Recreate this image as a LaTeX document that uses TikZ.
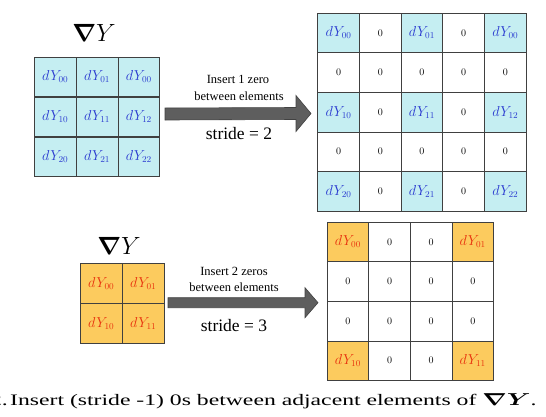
\documentclass[tikz,border=0pt]{standalone}
\usepackage{amsmath,bm}
\usepackage{fontspec}
\newfontfamily\tnr{Liberation Serif}
\usetikzlibrary{calc}
\definecolor{cy}{HTML}{C5EEF2}
\definecolor{og}{HTML}{FCCB5E}
\definecolor{bl}{HTML}{2A3AD0}
\definecolor{rd}{HTML}{E8320E}
\definecolor{gl}{HTML}{404040}
\definecolor{ar}{HTML}{5E5E5E}
\tikzset{
  cell/.style={draw=gl, line width=0.8pt, minimum width=41.7pt, minimum height=39.6pt, inner sep=0pt, anchor=north west},
  cyc/.style={cell, fill=cy, text=bl, font=\fontsize{13.5}{15}\selectfont},
  orc/.style={cell, fill=og, text=rd, font=\fontsize{13.5}{15}\selectfont},
  zc/.style={cell, fill=white, font=\fontsize{10}{11}\selectfont},
  small/.style={font=\tnr\fontsize{12.5}{14}\selectfont, inner sep=0pt},
  big/.style={font=\tnr\fontsize{17.5}{20}\selectfont, inner sep=0pt},
  blockarrow/.style={fill=ar, draw=ar!70!black, line width=0.6pt},
}
\def\zz{z}
\begin{document}
\begin{tikzpicture}[x=1pt,y=-1pt]
\useasboundingbox (0,0) rectangle (546,416);
% titles
\node[font=\fontsize{24}{28}\selectfont] (t1) at (94,33) {$\boldsymbol{\nabla}Y$};
\node[font=\fontsize{24}{28}\selectfont] (t2) at (119,246) {$\boldsymbol{\nabla}Y$};
% top-left grid
\foreach \r/\row in {0/{00,01,00},1/{10,11,12},2/{20,21,22}}{
  \foreach \s [count=\c from 0] in \row {
    \node[cyc] (TL-\r-\c) at ({34+\c*41.8},{56.7+\r*40}) {$dY_{\s}$};
  }
}
% top-right grid
\foreach \r/\row in {0/{00,z,01,z,00},1/{z,z,z,z,z},2/{10,z,11,z,12},3/{z,z,z,z,z},4/{20,z,21,z,22}}{
  \foreach \s [count=\c from 0] in \row {
    \edef\tmp{\s}
    \ifx\tmp\zz
      \node[zc] (TR-\r-\c) at ({317.3+\c*41.7},{12.7+\r*39.6}) {0};
    \else
      \node[cyc] (TR-\r-\c) at ({317.3+\c*41.7},{12.7+\r*39.6}) {$dY_{\s}$};
    \fi
  }
}
% bottom-left grid
\foreach \r/\row in {0/{00,01},1/{10,11}}{
  \foreach \s [count=\c from 0] in \row {
    \node[orc] (BL-\r-\c) at ({80+\c*42},{263.3+\r*40}) {$dY_{\s}$};
  }
}
% bottom-right grid
\foreach \r/\row in {0/{00,z,z,01},1/{z,z,z,z},2/{z,z,z,z},3/{10,z,z,11}}{
  \foreach \s [count=\c from 0] in \row {
    \edef\tmp{\s}
    \ifx\tmp\zz
      \node[zc] (BR-\r-\c) at ({326.7+\c*41.6},{221.7+\r*39.6}) {0};
    \else
      \node[orc] (BR-\r-\c) at ({326.7+\c*41.6},{221.7+\r*39.6}) {$dY_{\s}$};
    \fi
  }
}
% arrow 1
\coordinate (a1s) at (165,114);
\coordinate (a1e) at (311,113.5);
\draw[blockarrow] ($(a1s)+(0,-6)$) -- ($(a1e)+(-15,-6)$) -- ($(a1e)+(-15,-18)$) -- (a1e)
  -- ($(a1e)+(-15,18)$) -- ($(a1e)+(-15,6)$) -- ($(a1s)+(0,6)$) -- cycle;
\node[small] (l1a) at (238,79) {Insert 1 zero};
\node[small] (l1b) at (239,96) {between elements};
\node[big] (l1c) at (239,134) {stride = 2};
% arrow 2
\coordinate (a2s) at (168,302.7);
\coordinate (a2e) at (318,302.7);
\draw[blockarrow] ($(a2s)+(0,-5)$) -- ($(a2e)+(-13,-5)$) -- ($(a2e)+(-13,-15)$) -- (a2e)
  -- ($(a2e)+(-13,15)$) -- ($(a2e)+(-13,5)$) -- ($(a2s)+(0,5)$) -- cycle;
\node[small] (l2a) at (234,271.7) {Insert 2 zeros};
\node[small] (l2b) at (234,287.7) {between elements};
\node[big] (l2c) at (234,326) {stride = 3};
% caption
\begin{scope}
\clip (0,0) rectangle (546,416);
\node[font=\tnr\fontsize{16}{18}\selectfont, inner sep=0pt, anchor=base west] (cap) at (10,405)
  {\scalebox{1.48}[1]{Insert (stride -1) 0s between adjacent elements of $\boldsymbol{\nabla Y}$.}};
\node[font=\tnr\fontsize{16}{18}\selectfont, inner sep=0pt, anchor=base east] (capn) at ([xshift=-2pt]cap.base west)
  {\scalebox{1.48}[1]{2.}};
\end{scope}
\end{tikzpicture}
\end{document}
